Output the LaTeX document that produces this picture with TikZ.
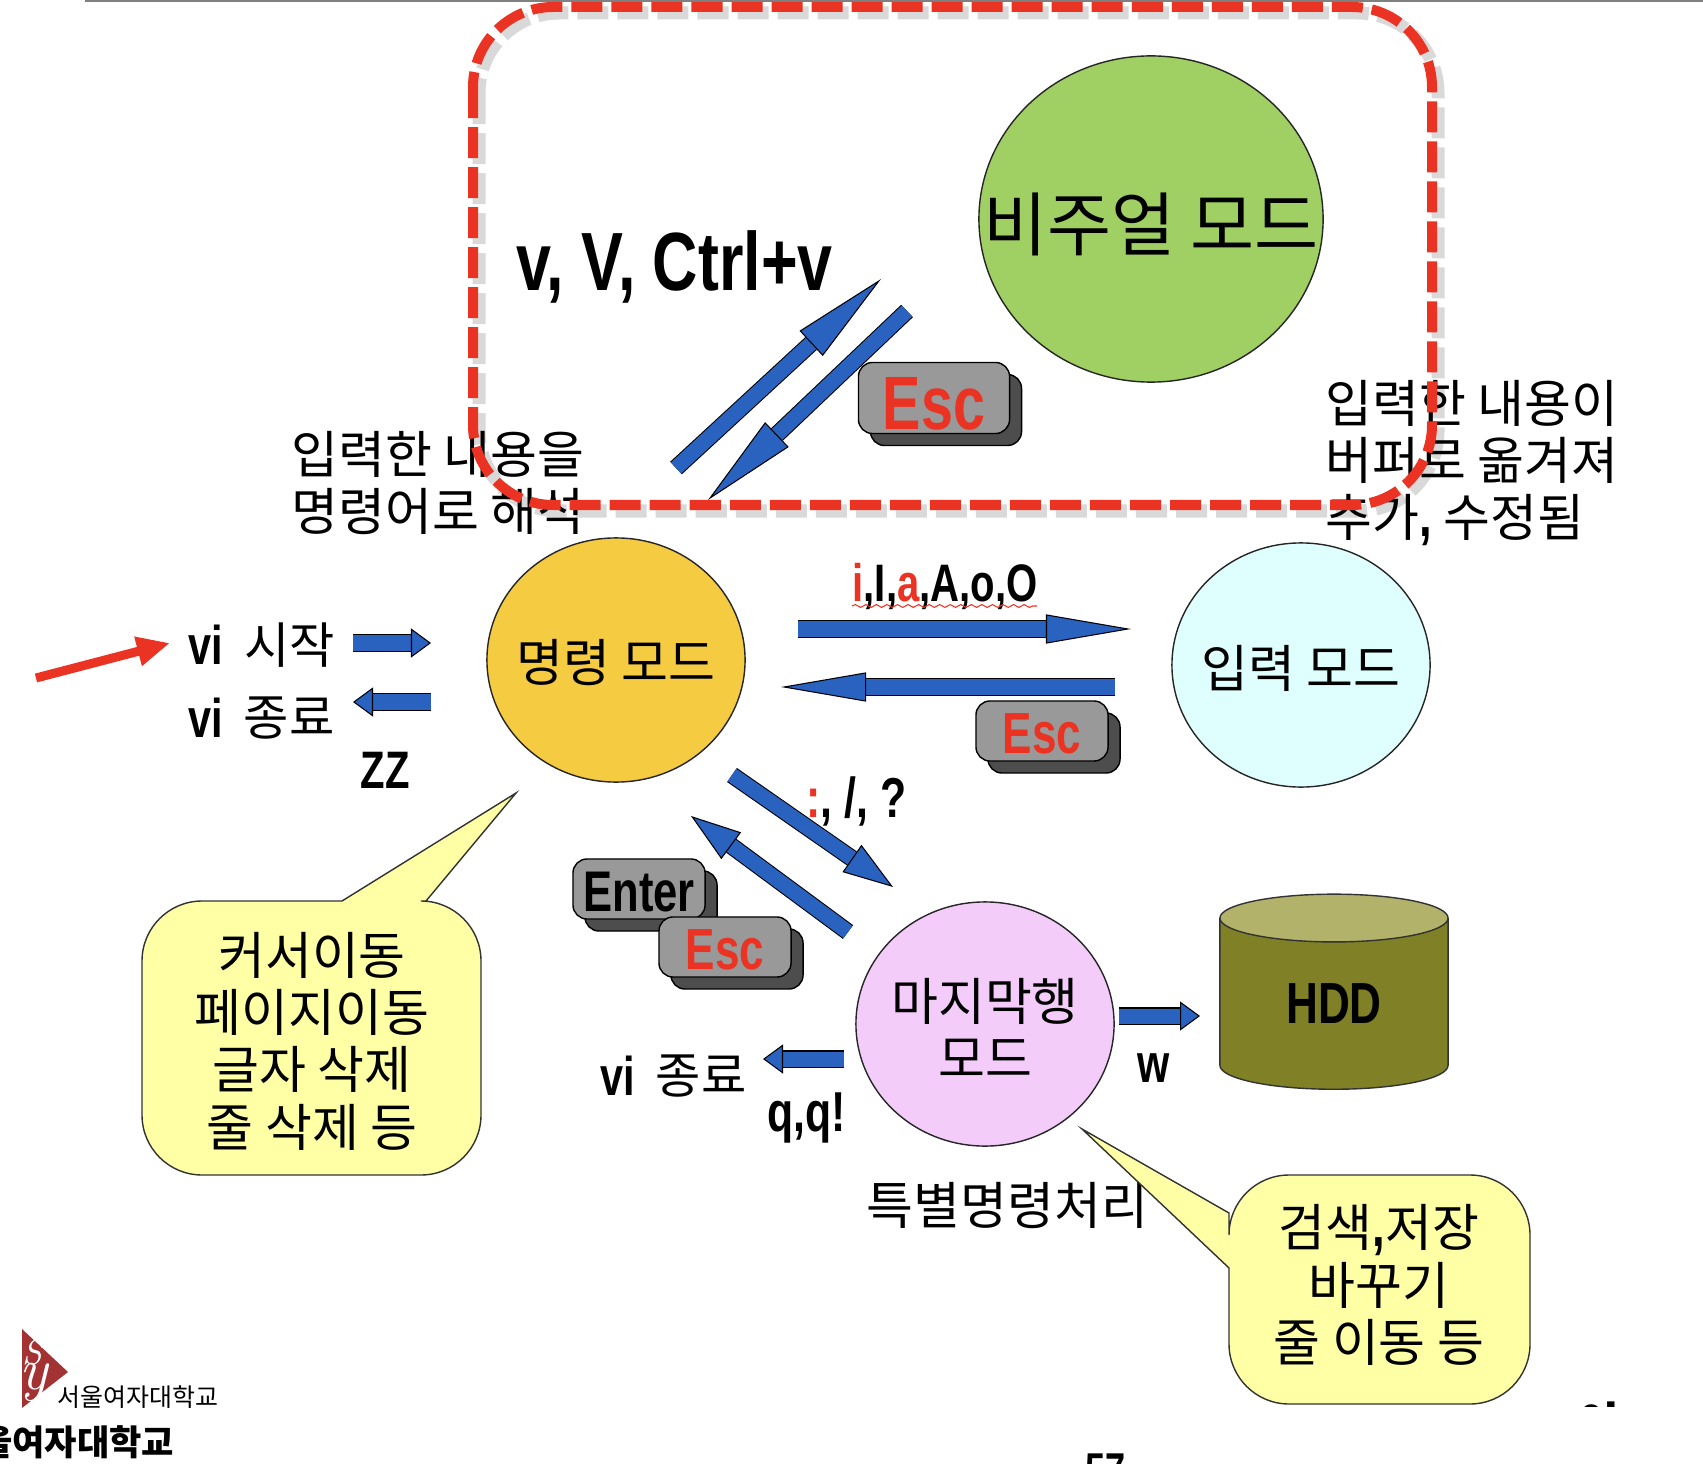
\documentclass[tikz,border=0pt]{standalone}
\usepackage{fontspec}
\setmainfont{Noto Sans CJK KR}
\newfontfamily\condfont[FakeStretch=0.76]{Liberation Sans}
\usepackage{xcolor}
\usetikzlibrary{shapes.geometric,arrows.meta,positioning,shadows,decorations.pathmorphing}
\definecolor{arrblue}{HTML}{2A62C0}
\definecolor{escred}{HTML}{EA3323}
\definecolor{keygray}{HTML}{999999}
\definecolor{keydark}{HTML}{4D4D4D}
\definecolor{noteyellow}{HTML}{FFFFA6}
\definecolor{visualgreen}{HTML}{A0CF63}
\definecolor{cmdyellow}{HTML}{F5CB42}
\definecolor{inputcyan}{HTML}{DFFFFF}
\definecolor{lastpink}{HTML}{F3CCFA}
\definecolor{diskbody}{HTML}{808026}
\definecolor{disktop}{HTML}{B2B26B}
\newcommand{\boldcomma}{{\condfont\bfseries\fontsize{17}{17}\selectfont,}}
\newcommand{\keydown}[2]{\raisebox{-#1}[\height][0pt]{#2}}
\begin{document}
\begin{tikzpicture}[
    x=0.01cm, y=-0.01cm,
    mode/.style={draw=black!85, ellipse, inner sep=0pt, minimum width=2.58cm, minimum height=2.44cm},
    txt/.style={align=left, font=\fontsize{14.5}{16.2}\selectfont, inner sep=0pt},
    hangul/.style={inner sep=0pt, font=\fontsize{14}{14}\selectfont},
    latin/.style={inner sep=0pt, font=\condfont\bfseries\fontsize{#1}{#1}\selectfont},
    keybox/.style={draw=black, fill=keygray, rounded corners=.14cm, inner sep=0pt, minimum width=1.32cm, minimum height=.6cm,
      copy shadow={draw=black, fill=keydark, shadow xshift=.12cm, shadow yshift=-.12cm}},
    note/.style={draw=black!80, fill=noteyellow},
    blockarr/.style n args={3}{draw=arrblue, line width=#1,
      preaction={arrows=-, draw=black, line width=#1+.6pt, shorten >=#2},
      -{Triangle[length=#2,width=#3,fill=arrblue,color=black,line width=.3pt]}},
    longarr/.style={blockarr={.15cm}{.95cm}{.34cm}},
    medarr/.style={blockarr={.15cm}{.5cm}{.33cm}},
    flatarr/.style={blockarr={.15cm}{.85cm}{.29cm}},
    smallarr/.style={blockarr={.15cm}{.2cm}{.29cm}},
    redbox/.style={draw=escred, line width=.1cm, rounded corners=.8cm, dash pattern=on .31cm off .09cm}
  ]
    \clip (0,0) rectangle (1703,1464);
    \draw[gray, line width=.05cm] (85,0) -- (1703,0);

    % circles and disk
    \node[mode, fill=visualgreen, minimum width=3.44cm, minimum height=3.26cm] (visual) at (1151,219) {};
    \node[txt, font=\fontsize{19.8}{21}\selectfont] (visualtxt) at (1151,224) {비주얼 모드};
    \node[mode, fill=cmdyellow] (command) at (616,660) {};
    \node[txt] (commandtxt) at (616,663) {명령 모드};
    \node[mode, fill=inputcyan] (input) at (1301,665) {};
    \node[txt] (inputtxt) at (1301,668) {입력 모드};
    \node[mode, fill=lastpink] (last) at (985,1024) {};
    \node[txt, align=center] (lasttxt) at (985,1028) {마지막행\\모드};
    \node[draw=black!80, cylinder, shape border rotate=90, shape aspect=.5, cylinder uses custom fill, cylinder body fill=diskbody, cylinder end fill=disktop, minimum width=2.28cm, minimum height=1.95cm, inner sep=0pt, font=\condfont\bfseries\fontsize{16.5}{16.5}\selectfont] (hdd) at (1334,1004) {HDD};

    % free texts
    \node[txt, anchor=west] (cmdtxt) at (291,483) {입력한 내용을\\[.1pt]명령어로 해석};
    \node[txt, anchor=west] (inptxt) at (1325,463) {입력한 내용이\\버퍼로 옮겨져\\추가\boldcomma\ 수정됨};
    \node[txt, anchor=west] (spectxt) at (866,1206) {특별명령처리};
    \node[latin=23.5, anchor=west] (vkeys) at (516,267) {v, V, Ctrl+v};
    \node[latin=15, anchor=west] (inskeys) at (852,586) {\textcolor{escred}{i},I,\textcolor{escred}{a},A,o,O};
    \draw[escred, line width=.3pt, decorate, decoration={snake, amplitude=.4pt, segment length=3pt}] (852,606) -- (1037,606);
    \node[latin=16, anchor=west] (exkeys) at (806,801) {\textcolor{escred}{:},\ /,\ ?};
    \node[latin=15.5, anchor=west] (vistart) at (188,645) {vi};
    \node[hangul, anchor=west] (vistarttxt) at (244,645) {시작};
    \node[latin=15.5, anchor=west] (viquit) at (188,718) {vi};
    \node[hangul, anchor=west] (viquittxt) at (243,718) {종료};
    \node[latin=15, anchor=west] (zz) at (360,770) {ZZ};
    \node[latin=15.5, anchor=west] (viquitb) at (600,1076) {vi};
    \node[hangul, anchor=west] (viquitbtxt) at (655,1076) {종료};
    \node[latin=16, anchor=west] (qq) at (767,1118) {q,q!};
    \node[latin=15.5, anchor=west] (wkey) at (1137,1068) {w};

    % keys
    \node[keybox, minimum width=1.51cm, minimum height=.71cm, font=\condfont\bfseries\fontsize{21.5}{21.5}\selectfont, text=escred] (esca) at (934,398) {\keydown{.05cm}{Esc}};
    \node[keybox, font=\condfont\bfseries\fontsize{16.5}{16.5}\selectfont, text=escred] (escb) at (1042,731) {\keydown{.03cm}{Esc}};
    \node[keybox, font=\condfont\bfseries\fontsize{16.3}{16.3}\selectfont] (enter) at (639,889) {\keydown{.03cm}{Enter}};
    \node[keybox, font=\condfont\bfseries\fontsize{16.5}{16.5}\selectfont, text=escred] (escc) at (725,947) {\keydown{.03cm}{Esc}};

    % arrows
    \coordinate (va) at (676,468);
    \coordinate (vb) at (881,279);
    \coordinate (vc) at (907,311);
    \coordinate (vd) at (708,500);
    \foreach \i/\j in {va/vb, vc/vd}
      \draw[longarr] (\i) -- (\j);
    \coordinate (ia) at (798,629);
    \coordinate (ib) at (1131,629);
    \coordinate (ic) at (1115,687);
    \coordinate (id) at (781,687);
    \foreach \i/\j in {ia/ib, ic/id}
      \draw[flatarr] (\i) -- (\j);
    \coordinate (la) at (732,775);
    \coordinate (lb) at (893,887);
    \coordinate (lc) at (848,932);
    \coordinate (ld) at (691,816);
    \foreach \i/\j in {la/lb, lc/ld}
      \draw[medarr] (\i) -- (\j);
    \coordinate (sa) at (353,643);
    \coordinate (sb) at (431,643);
    \coordinate (sc) at (431,702);
    \coordinate (sd) at (353,702);
    \coordinate (se) at (1119,1016);
    \coordinate (sf) at (1200,1016);
    \coordinate (sg) at (844,1059);
    \coordinate (sh) at (763,1059);
    \foreach \i/\j in {sa/sb, sc/sd, se/sf, sg/sh}
      \draw[smallarr] (\i) -- (\j);
    \coordinate (ra) at (36,678);
    \coordinate (rb) at (170,643);
    \draw[escred, line width=.09cm, -{Triangle[length=.33cm,width=.28cm]}] (ra) -- (rb);

    % notes
    \draw[note] (426,901) [rounded corners=.6cm] -- (481,901) -- (481,1175) -- (142,1175) -- (142,901) [sharp corners] -- (342,901) -- (516,793) -- cycle;
    \node[txt, align=center] (notea) at (312,1041) {커서이동\\[.1pt]페이지이동\\[.1pt]글자 삭제\\[.1pt]줄 삭제 등};
    \draw[note] (1229,1213) [rounded corners=.6cm] -- (1229,1175) -- (1530,1175) -- (1530,1404) -- (1229,1404) [sharp corners] -- (1229,1268) -- (1082,1129) -- cycle;
    \node[txt, align=center] (noteb) at (1379,1285) {검색\boldcomma 저장\\[.1pt]바꾸기\\[.1pt]줄 이동 등};

    % dashed frame with its soft edge
    \draw[redbox, draw=black, opacity=.15, line width=.13cm] (479,13) rectangle (1438,511);
    \draw[redbox] (473,7) rectangle (1432,505);

    % logo and cut off page furniture
    \begin{scope}
      \clip (22,1329) -- (68,1372) -- (22,1408) -- cycle;
      \fill[red!55!black!80!white] (22,1329) rectangle (68,1408);
      \node[text=white, inner sep=0pt, font=\fontfamily{lmr}\itshape\fontsize{17}{17}\selectfont] (logoy) at (34,1382) {y};
      \node[text=white, inner sep=0pt, font=\fontfamily{lmr}\itshape\fontsize{10}{10}\selectfont] (logos) at (32,1352) {S};
    \end{scope}
    \node[inner sep=0pt, anchor=west, font=\fontsize{7.1}{8}\selectfont] (logotxt) at (57,1397) {서울여자대학교};
    \node[inner sep=0pt, anchor=east, font=\bfseries\fontsize{10}{11}\selectfont] (school) at (175,1442) {서울여자대학교};
    \node[inner sep=0pt, anchor=north west, font=\condfont\bfseries\fontsize{13.5}{13.5}\selectfont] (pageno) at (1085,1453) {57};
    \begin{scope}
      \clip (1560,1390) rectangle (1640,1406);
      \node[inner sep=0pt, anchor=north west, font=\bfseries\fontsize{13}{13}\selectfont] (cut) at (1577,1401) {이};
    \end{scope}
  \end{tikzpicture}
\end{document}
